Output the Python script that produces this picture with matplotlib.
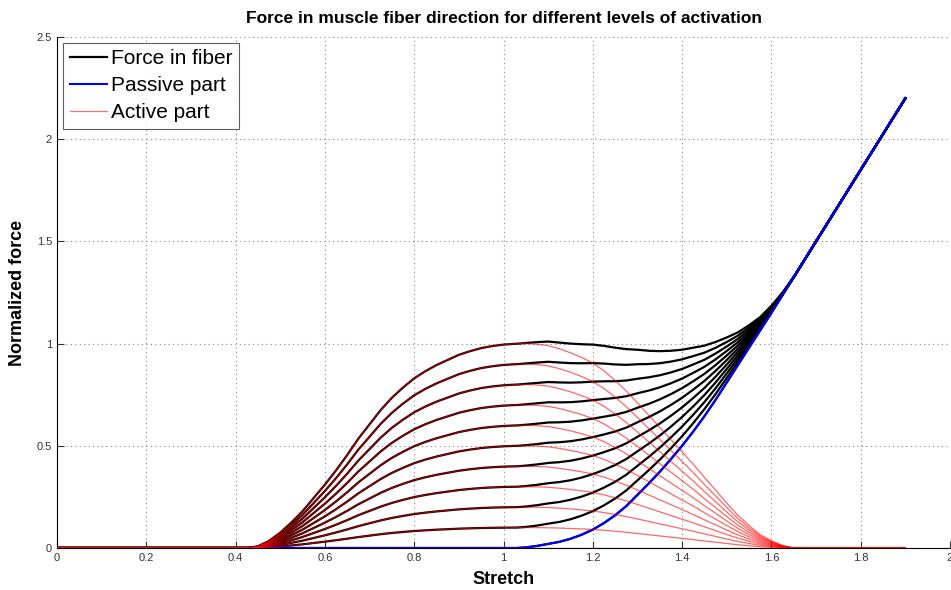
import numpy as np
import matplotlib
matplotlib.use('Agg')
import matplotlib.pyplot as plt

# values
activation = [0.0, 0.1, 0.2, 0.3, 0.4, 0.5, 0.6, 0.7, 0.8, 0.9, 1.0]

# active force-length curve at full activation
act_x = [0.0, 0.43, 0.45, 0.475, 0.5, 0.525, 0.55, 0.575, 0.6, 0.625, 0.65,
         0.675, 0.7, 0.725, 0.75, 0.775, 0.8, 0.825, 0.85, 0.875, 0.9, 0.925,
         0.95, 0.975, 1.0, 1.025, 1.05, 1.075, 1.1, 1.125, 1.15, 1.175, 1.2,
         1.225, 1.25, 1.275, 1.3, 1.325, 1.35, 1.375, 1.4, 1.425, 1.45, 1.475,
         1.5, 1.525, 1.55, 1.575, 1.6, 1.625, 1.65, 1.9]
act_y = [0.0, 0.0, 0.008, 0.035, 0.075, 0.125, 0.18, 0.245, 0.31, 0.38, 0.455,
         0.535, 0.605, 0.675, 0.735, 0.785, 0.83, 0.865, 0.895, 0.92, 0.945, 0.963,
         0.978, 0.988, 0.995, 0.999, 1.0, 0.997, 0.99, 0.975, 0.955, 0.932, 0.905,
         0.867, 0.82, 0.768, 0.71, 0.65, 0.59, 0.53, 0.47, 0.41, 0.345, 0.283,
         0.22, 0.16, 0.11, 0.065, 0.035, 0.012, 0.0, 0.0]

# passive curve
pas_x = [0.0, 1.03, 1.05, 1.075, 1.1, 1.125, 1.15, 1.175, 1.2, 1.225, 1.25,
         1.275, 1.3, 1.325, 1.35, 1.375, 1.4, 1.425, 1.45, 1.475, 1.5, 1.525,
         1.55, 1.575, 1.6, 1.7, 1.8, 1.9]
pas_y = [0.0, 0.0, 0.003, 0.01, 0.02, 0.03, 0.045, 0.065, 0.09, 0.122, 0.16,
         0.205, 0.26, 0.315, 0.373, 0.435, 0.5, 0.57, 0.645, 0.725, 0.81, 0.895,
         0.98, 1.065, 1.15, 1.5, 1.85, 2.2]

xticks = [0, 0.2, 0.4, 0.6, 0.8, 1, 1.2, 1.4, 1.6, 1.8, 2]
yticks = [0, 0.5, 1, 1.5, 2, 2.5]

plt.rcParams['font.family'] = ['Liberation Sans', 'DejaVu Sans']

fig = plt.figure(figsize=(9.51, 5.90), dpi=100)
ax = fig.add_axes([57/951, 42/590, 893/951, 511/590])

# common grid so active + passive can be summed
x = np.union1d(act_x, pas_x)
fl = np.interp(x, act_x, act_y)
fp = np.interp(x, pas_x, pas_y)

for a in activation:
    ax.plot(x, a*fl + fp, color='black', lw=1.6, zorder=3,
            label='Force in fiber' if a == 0 else None)
ax.plot(x, fp, color='blue', lw=1.5, zorder=4, label='Passive part')
for a in activation:
    ax.plot(x, a*fl, color='red', lw=0.9, alpha=0.6, zorder=5,
            label='Active part' if a == 0 else None)

ax.set_xlim(0, 2)
ax.set_ylim(0, 2.5)
ax.set_xticks(xticks)
ax.set_xticklabels([('%g' % t) for t in xticks])
ax.set_yticks(yticks)
ax.set_yticklabels([('%g' % t) for t in yticks])
ax.tick_params(direction='in', length=5, labelsize=8, colors='#333333', labelcolor='#333333')
ax.grid(True, color='#888888', linestyle=(0, (1, 3)), lw=0.8)
ax.spines['top'].set_visible(False)
ax.spines['right'].set_visible(False)

ax.set_title('Force in muscle fiber direction for different levels of activation',
             fontsize=12.5, fontweight='bold', pad=10)
ax.set_xlabel('Stretch', fontsize=13, fontweight='bold', labelpad=6)
ax.set_ylabel('Normalized force', fontsize=13, fontweight='bold', labelpad=8)

leg = ax.legend(loc='upper left', fontsize=15, frameon=True, fancybox=False,
                edgecolor='#333333', borderpad=0.3, labelspacing=0.38,
                handlelength=1.8, handletextpad=0.2, borderaxespad=0.3)
leg.get_frame().set_linewidth(0.8)
for h in leg.get_lines():
    h.set_alpha(1)
leg.get_lines()[2].set_color('#ff7070')

fig.savefig('out.png', dpi=100)
